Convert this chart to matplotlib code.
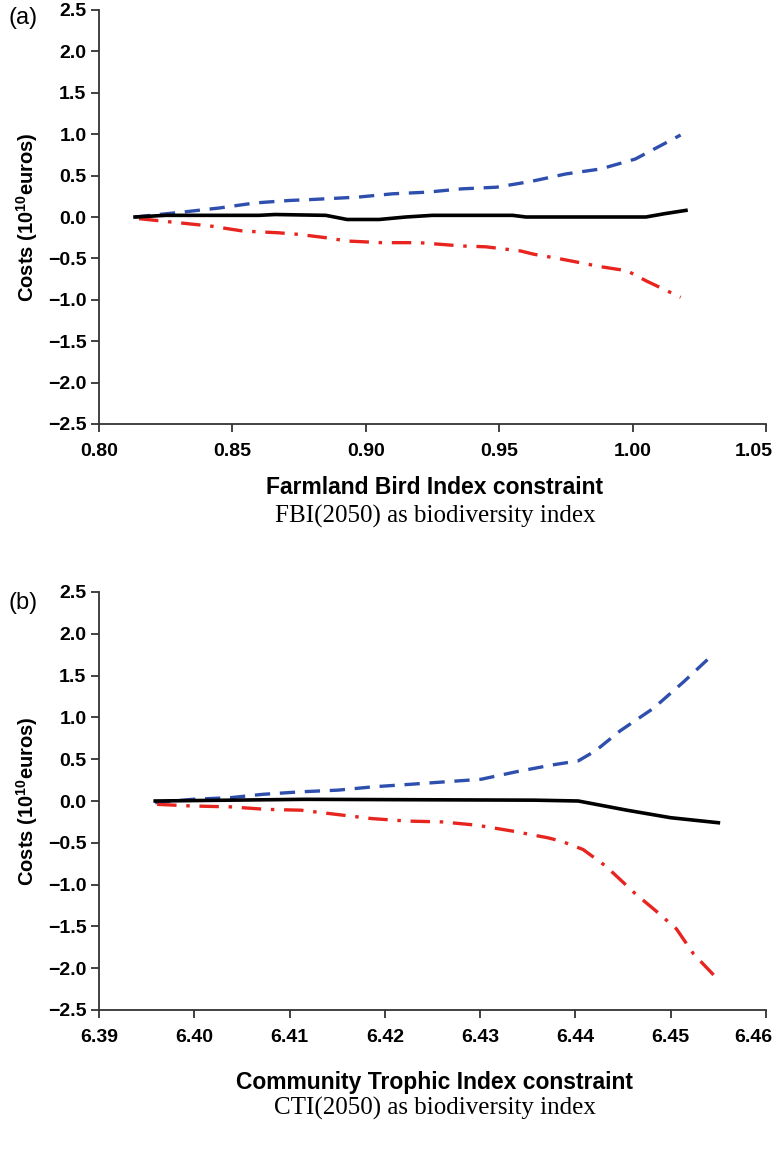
import matplotlib
matplotlib.use("Agg")
import matplotlib.pyplot as plt
from matplotlib.transforms import ScaledTranslation

plt.rcParams["font.family"] = ["Liberation Sans", "DejaVu Sans"]
plt.rcParams["mathtext.fontset"] = "custom"
plt.rcParams["mathtext.rm"] = "Liberation Sans"
plt.rcParams["mathtext.bf"] = "Liberation Sans:bold"
plt.rcParams["lines.scale_dashes"] = False

# ---- panel (a): Farmland Bird Index ----
fbi_blue_x = [0.8135, 0.8315, 0.8454, 0.8585, 0.8716, 0.879, 0.897, 0.910, 0.923,
              0.936, 0.949, 0.962, 0.975, 0.988, 1.001, 1.018]
fbi_blue_y = [0.0, 0.06, 0.11, 0.17, 0.20, 0.21, 0.24, 0.28, 0.30,
              0.34, 0.36, 0.43, 0.52, 0.58, 0.70, 0.99]
fbi_red_x = [0.8150, 0.833, 0.842, 0.854, 0.867, 0.875, 0.885, 0.893, 0.906, 0.920,
             0.936, 0.945, 0.958, 0.963, 0.972, 0.988, 0.998, 1.005, 1.018]
fbi_red_y = [-0.02, -0.08, -0.11, -0.17, -0.19, -0.21, -0.25, -0.29, -0.31, -0.31,
             -0.35, -0.36, -0.41, -0.45, -0.50, -0.60, -0.65, -0.77, -0.97]
fbi_black_x = [0.8135, 0.825, 0.860, 0.866, 0.885, 0.893, 0.905, 0.915, 0.925,
               0.955, 0.960, 1.005, 1.012, 1.020]
fbi_black_y = [0.0, 0.02, 0.02, 0.03, 0.02, -0.03, -0.03, 0.0, 0.02,
               0.02, 0.0, 0.0, 0.04, 0.08]
fbi_xticks = [0.80, 0.85, 0.90, 0.95, 1.00, 1.05]

# ---- panel (b): Community Trophic Index ----
cti_blue_x = [6.3959, 6.3998, 6.4038, 6.4072, 6.4112, 6.4151, 6.4188, 6.4227, 6.4264,
              6.4301, 6.4338, 6.4375, 6.4403, 6.4421, 6.4447, 6.4482, 6.4514, 6.4545]
cti_blue_y = [-0.02, 0.02, 0.04, 0.08, 0.11, 0.13, 0.17, 0.20, 0.23,
              0.26, 0.35, 0.43, 0.48, 0.60, 0.84, 1.11, 1.43, 1.76]
cti_red_x = [6.3961, 6.3998, 6.4038, 6.4075, 6.4112, 6.4149, 6.4186, 6.4223, 6.4260, 6.4297,
             6.4334, 6.4371, 6.4385, 6.4408, 6.4432, 6.4462, 6.4485, 6.4506, 6.4524, 6.4545]
cti_red_y = [-0.04, -0.06, -0.07, -0.10, -0.11, -0.16, -0.21, -0.24, -0.25, -0.29,
             -0.36, -0.44, -0.48, -0.58, -0.78, -1.10, -1.32, -1.53, -1.83, -2.08]
cti_black_x = [6.3959, 6.4116, 6.4357, 6.4403, 6.4454, 6.4500, 6.4550]
cti_black_y = [0.0, 0.02, 0.01, 0.0, -0.11, -0.20, -0.26]
cti_xticks = [6.39, 6.40, 6.41, 6.42, 6.43, 6.44, 6.45, 6.46]

yticks = [2.5, 2.0, 1.5, 1.0, 0.5, 0.0, -0.5, -1.0, -1.5, -2.0, -2.5]

BLUE = "#2f4fae"
RED = "#e8241f"

W, H = 778, 1161
fig = plt.figure(figsize=(W / 100, H / 100), dpi=100)


def px_axes(left, top, right, bottom):
    return fig.add_axes([left / W, 1 - bottom / H, (right - left) / W, (bottom - top) / H])


def style(ax, xticks, fmt):
    for s in ("top", "right"):
        ax.spines[s].set_visible(False)
    for s in ("left", "bottom"):
        ax.spines[s].set_color("#333333")
        ax.spines[s].set_linewidth(1.3)
    ax.set_xlim(xticks[0], xticks[-1])
    ax.set_ylim(-2.5, 2.5)
    ax.set_xticks(xticks)
    ax.set_xticklabels([fmt.format(v) for v in xticks])
    ax.set_yticks(yticks)
    ax.set_yticklabels(["{:.1f}".format(v).replace("-", "\u2212") for v in yticks])
    ax.tick_params(axis="x", direction="out", length=6, width=1.3, color="#333333",
                   labelsize=14, pad=8)
    ax.tick_params(axis="y", direction="out", length=6, width=1.3, color="#333333",
                   labelsize=14, pad=3)
    for lab in ax.get_xticklabels() + ax.get_yticklabels():
        lab.set_fontweight("bold")
    # keep the last x label inside the figure
    last = ax.get_xticklabels()[-1]
    last.set_transform(last.get_transform() + ScaledTranslation(-9 / 72, 0, fig.dpi_scale_trans))
    ax.set_ylabel(r"Costs (10$^{\mathbf{10}}$euros)", fontsize=14.5,
                  fontweight="bold", labelpad=6)


def draw(ax, bx, by, rx, ry, kx, ky):
    ax.plot(bx, by, color=BLUE, lw=2.4, dashes=(11, 7))
    ax.plot(rx, ry, color=RED, lw=2.4, dashes=(14, 7, 2.5, 7))
    ax.plot(kx, ky, color="black", lw=2.6)


ax_a = px_axes(99, 10, 766, 424)
draw(ax_a, fbi_blue_x, fbi_blue_y, fbi_red_x, fbi_red_y, fbi_black_x, fbi_black_y)
style(ax_a, fbi_xticks, "{:.2f}")

ax_b = px_axes(99, 592, 766, 1010)
draw(ax_b, cti_blue_x, cti_blue_y, cti_red_x, cti_red_y, cti_black_x, cti_black_y)
style(ax_b, cti_xticks, "{:.2f}")

fig.text(8 / W, 1 - 18 / H, "(a)", fontsize=17, va="center", ha="left")
fig.text(8 / W, 1 - 603 / H, "(b)", fontsize=17, va="center", ha="left")

fig.text(435 / W, 1 - 488 / H, "Farmland Bird Index constraint", fontsize=16.5,
         fontweight="bold", ha="center", va="center")
fig.text(435 / W, 1 - 516 / H, "FBI(2050) as biodiversity index", fontsize=18,
         family=["Liberation Serif"], ha="center", va="center")
fig.text(435 / W, 1 - 1083 / H, "Community Trophic Index constraint", fontsize=16.5,
         fontweight="bold", ha="center", va="center")
fig.text(435 / W, 1 - 1108 / H, "CTI(2050) as biodiversity index", fontsize=18,
         family=["Liberation Serif"], ha="center", va="center")

fig.savefig("out.png", dpi=100, facecolor="white")
